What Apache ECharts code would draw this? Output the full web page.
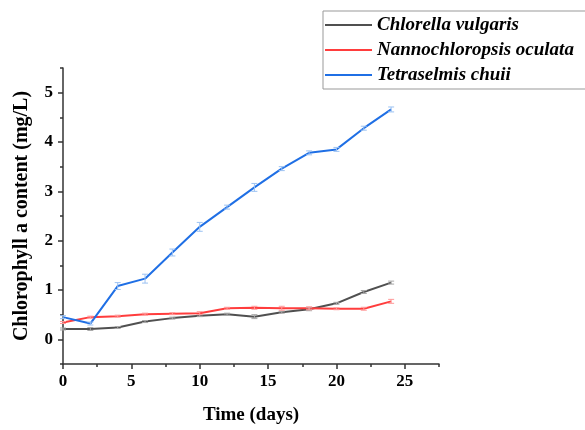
<!DOCTYPE html>
<html>
<head>
<meta charset="utf-8">
<script src="https://cdn.jsdelivr.net/npm/echarts@6/dist/echarts.min.js"></script>
<style>
  html, body { margin: 0; padding: 0; background: #fff; }
  #main { width: 585px; height: 430px; }
</style>
</head>
<body>
<div id="main"></div>
<script>
// 数据
const days = [0, 2, 4, 6, 8, 10, 12, 14, 16, 18, 20, 22, 24];
const chlorella = [0.21, 0.21, 0.24, 0.36, 0.43, 0.48, 0.51, 0.46, 0.55, 0.61, 0.73, 0.96, 1.15];
const chlorellaErr = [0.02, 0.03, 0.02, 0.02, 0.02, 0.02, 0.02, 0.04, 0.02, 0.03, 0.02, 0.03, 0.03];
const nanno = [0.34, 0.45, 0.47, 0.51, 0.52, 0.53, 0.63, 0.64, 0.63, 0.63, 0.62, 0.62, 0.77];
const nannoErr = [0.02, 0.02, 0.02, 0.02, 0.02, 0.03, 0.02, 0.03, 0.04, 0.03, 0.02, 0.03, 0.04];
const tetra = [0.45, 0.32, 1.08, 1.23, 1.76, 2.28, 2.68, 3.08, 3.46, 3.78, 3.85, 4.28, 4.66];
const tetraErr = [0.03, 0.03, 0.07, 0.09, 0.07, 0.09, 0.04, 0.08, 0.04, 0.04, 0.04, 0.04, 0.05];
const seriesNames = ['Chlorella vulgaris', 'Nannochloropsis oculata', 'Tetraselmis chuii'];
const xMajor = [0, 5, 10, 15, 20, 25];
const xMinor = [2.5, 7.5, 12.5, 17.5, 22.5, 27.5];
const yMajor = [0, 1, 2, 3, 4, 5];
const yMinor = [-0.5, 0.5, 1.5, 2.5, 3.5, 4.5, 5.5];

const FONT = '"Liberation Serif", "Times New Roman", serif';
const myChart = echarts.init(document.getElementById('main'));

function pairs(vals) {
	return days.map((d, i) => [d, vals[i]]);
}
function errData(vals, errs) {
	return days.map((d, i) => [d, vals[i], errs[i]]);
}
// 误差棒
function errSeries(vals, errs, color) {
	return {
		type: 'custom',
		data: errData(vals, errs),
		z: 5,
		silent: true,
		renderItem: function (params, api) {
			const x = api.value(0), y = api.value(1), e = api.value(2);
			const top = api.coord([x, y + e]);
			const bot = api.coord([x, y - e]);
			const w = 3;
			const st = { stroke: color, lineWidth: 1 };
			return {
				type: 'group',
				children: [
					{ type: 'line', shape: { x1: top[0], y1: top[1], x2: bot[0], y2: bot[1] }, style: st },
					{ type: 'line', shape: { x1: top[0] - w, y1: top[1], x2: top[0] + w, y2: top[1] }, style: st },
					{ type: 'line', shape: { x1: bot[0] - w, y1: bot[1], x2: bot[0] + w, y2: bot[1] }, style: st }
				]
			};
		}
	};
}
function lineSeries(name, vals, color) {
	return {
		name: name,
		type: 'line',
		data: pairs(vals),
		symbol: 'none',
		lineStyle: { color: color, width: 2 },
		itemStyle: { color: color },
		z: 3
	};
}

const axisLineStyle = { color: '#333', width: 1.5 };

let option = {
	animation: false,
	backgroundColor: '#fff',
	textStyle: { fontFamily: FONT },
	grid: { left: 63, right: 146, top: 68, bottom: 59 },
	legend: {
		orient: 'vertical',
		left: 323,
		top: 11,
		padding: [4, 30, 4, 2],
		itemGap: 5,
		itemWidth: 47,
		itemHeight: 2,
		icon: 'rect',
		borderColor: '#999',
		borderWidth: 1,
		backgroundColor: '#fff',
		textStyle: { fontFamily: FONT, fontSize: 19, fontWeight: 'bold', fontStyle: 'italic', color: '#000', lineHeight: 20 },
		data: seriesNames
	},
	xAxis: [{
		type: 'value', min: 0, max: 27.5,
		name: 'Time (days)', nameLocation: 'middle', nameGap: 42,
		nameTextStyle: { fontFamily: FONT, fontSize: 19, fontWeight: 'bold', color: '#000' },
		axisLine: { show: true, onZero: false, lineStyle: axisLineStyle },
		axisTick: { show: true, length: 5, customValues: xMajor, lineStyle: axisLineStyle },
		axisLabel: { customValues: xMajor, margin: 9, fontFamily: FONT, fontSize: 17, fontWeight: 'bold', color: '#000' },
		splitLine: { show: false }
	}, {
		type: 'value', min: 0, max: 27.5, position: 'bottom',
		axisLine: { show: false, onZero: false },
		axisTick: { show: true, length: 3, customValues: xMinor, lineStyle: axisLineStyle },
		axisLabel: { show: false },
		splitLine: { show: false }
	}],
	yAxis: [{
		type: 'value', min: -0.5, max: 5.5,
		name: 'Chlorophyll a content (mg/L)', nameLocation: 'middle', nameGap: 31,
		nameTextStyle: { fontFamily: FONT, fontSize: 20, fontWeight: 'bold', color: '#000' },
		axisLine: { show: true, onZero: false, lineStyle: axisLineStyle },
		axisTick: { show: true, length: 5, customValues: yMajor, lineStyle: axisLineStyle },
		axisLabel: { customValues: yMajor, margin: 10, fontFamily: FONT, fontSize: 17, fontWeight: 'bold', color: '#000' },
		splitLine: { show: false }
	}, {
		type: 'value', min: -0.5, max: 5.5, position: 'left',
		axisLine: { show: false, onZero: false },
		axisTick: { show: true, length: 3, customValues: yMinor, lineStyle: axisLineStyle },
		axisLabel: { show: false },
		splitLine: { show: false }
	}],
	series: [
		lineSeries(seriesNames[0], chlorella, '#505050'),
		lineSeries(seriesNames[1], nanno, '#ff3d3d'),
		lineSeries(seriesNames[2], tetra, '#1f6fe5'),
		errSeries(chlorella, chlorellaErr, '#a8a8a8'),
		errSeries(nanno, nannoErr, '#ff9a9a'),
		errSeries(tetra, tetraErr, '#9cc2f2')
	]
};
myChart.setOption(option);
</script>
</body>
</html>
